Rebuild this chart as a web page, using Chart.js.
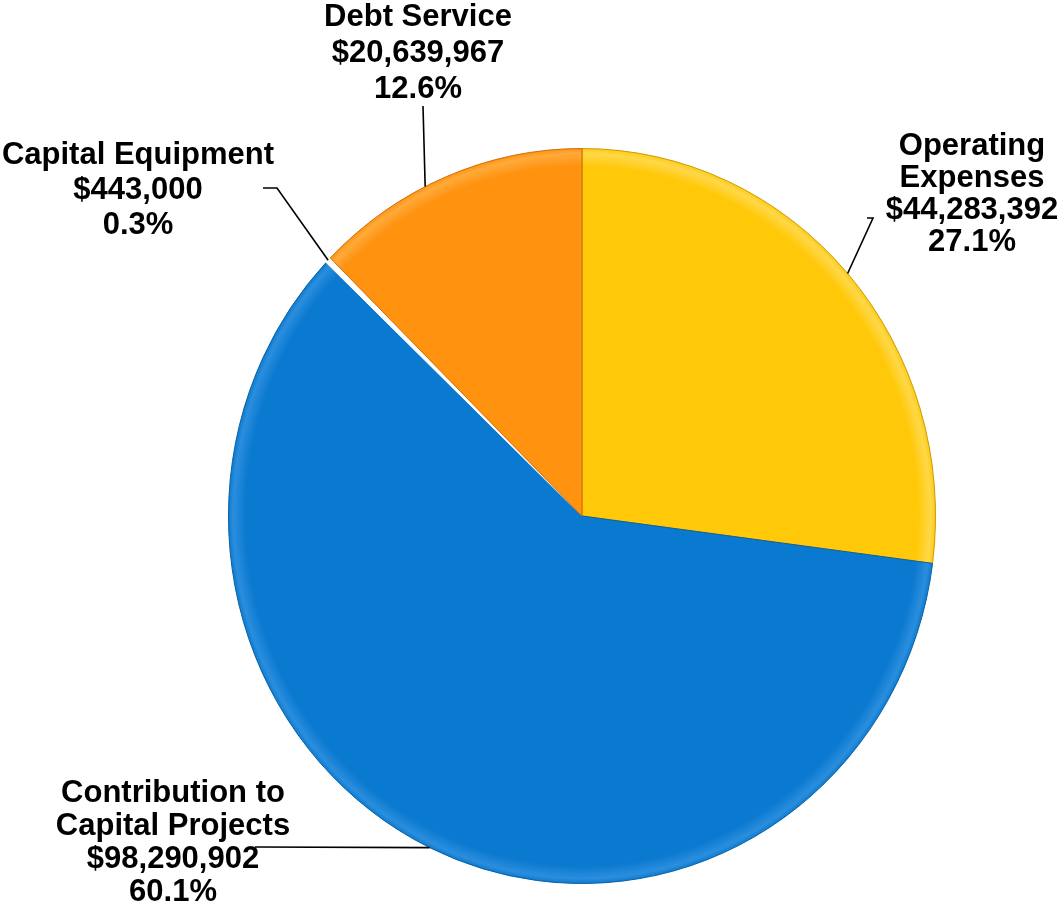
<!DOCTYPE html>
<html>
<head>
<meta charset="utf-8">
<script src="https://cdn.jsdelivr.net/npm/chart.js@4.4.1/dist/chart.umd.min.js"></script>
<style>
  body { margin: 0; background: #fff; }
  #wrap { width: 1059px; height: 915px; position: relative; }
</style>
</head>
<body>
<div id="wrap"><canvas id="budgetPie"></canvas></div>
<script>
// data
const categories = ['Operating Expenses', 'Contribution to Capital Projects', 'Capital Equipment', 'Debt Service'];
const amounts = [44283392, 98290902, 443000, 20639967];
const percents = ['27.1%', '60.1%', '0.3%', '12.6%'];
const labelLines = [
  ['Operating', 'Expenses'],
  ['Contribution to', 'Capital Projects'],
  ['Capital Equipment'],
  ['Debt Service']
];

const baseColors = ['#FFC90A', '#0A79D0', '#FFFFFF', '#FF920F'];
const rimColors  = ['#FFD84A', '#2B8EDD', '#FFFFFF', '#FFAA3A'];
const edgeColors = ['#C89A00', '#08609F', '#FFFFFF', '#D06A00'];

// squash the pie a little horizontally, like the original
const squashX = 0.962;

// where each label block sits, where the leader touches the slice (0..1 across it),
// and the leader line bend points
const labelLayout = [
  { x: 972, y: 155, lh: 32, at: 0.5,  path: [[873, 218], [867, 218]] },
  { x: 173, y: 802, lh: 33, at: 0.5,  path: [[255, 847]] },
  { x: 138, y: 164, lh: 35, at: 0.5,  path: [[277, 188], [263, 188]] },
  { x: 418, y: 26,  lh: 36, at: 0.42, path: [[423, 106]] }
];

function money(v) {
  return '$' + v.toLocaleString('en-US');
}

function sliceFill(context) {
  const chart = context.chart;
  const area = chart.chartArea;
  const i = context.dataIndex;
  if (!area) return baseColors[i];
  const cx = (area.left + area.right) / 2;
  const cy = (area.top + area.bottom) / 2;
  const r = Math.min(area.right - area.left, area.bottom - area.top) / 2;
  const g = chart.ctx.createRadialGradient(cx, cy, 0, cx, cy, r);
  g.addColorStop(0, baseColors[i]);
  g.addColorStop(0.95, baseColors[i]);
  g.addColorStop(0.985, rimColors[i]);
  g.addColorStop(1, baseColors[i]);
  return g;
}

const squashPlugin = {
  id: 'squash',
  beforeDatasetsDraw(chart) {
    const a = chart.chartArea;
    const cx = (a.left + a.right) / 2;
    const cy = (a.top + a.bottom) / 2;
    const ctx = chart.ctx;
    ctx.save();
    ctx.translate(cx, cy);
    ctx.scale(squashX, 1);
    ctx.translate(-cx, -cy);
  },
  afterDatasetsDraw(chart) {
    chart.ctx.restore();
  }
};

const calloutPlugin = {
  id: 'callouts',
  afterDraw(chart) {
    const ctx = chart.ctx;
    const arcs = chart.getDatasetMeta(0).data;
    ctx.save();
    arcs.forEach((arc, i) => {
      const lay = labelLayout[i];
      const p = arc.getProps(['x', 'y', 'startAngle', 'endAngle', 'outerRadius'], true);
      const ang = p.startAngle + (p.endAngle - p.startAngle) * lay.at;
      const sx = p.x + Math.cos(ang) * p.outerRadius * squashX;
      const sy = p.y + Math.sin(ang) * p.outerRadius;
      ctx.strokeStyle = '#000';
      ctx.lineWidth = 1.6;
      ctx.beginPath();
      ctx.moveTo(sx, sy);
      lay.path.forEach(pt => ctx.lineTo(pt[0], pt[1]));
      ctx.stroke();

      const lines = labelLines[i].concat([money(amounts[i]), percents[i]]);
      ctx.fillStyle = '#000';
      ctx.font = 'bold 31px "Liberation Sans", Arial, sans-serif';
      ctx.textAlign = 'center';
      ctx.textBaseline = 'alphabetic';
      lines.forEach((t, k) => ctx.fillText(t, lay.x, lay.y + k * lay.lh));
    });
    ctx.restore();
  }
};

new Chart(document.getElementById('budgetPie'), {
  type: 'pie',
  data: {
    labels: categories,
    datasets: [{
      data: amounts,
      backgroundColor: sliceFill,
      borderColor: edgeColors,
      borderWidth: 1
    }]
  },
  options: {
    responsive: true,
    maintainAspectRatio: false,
    animation: false,
    events: [],
    layout: { padding: { top: 148, bottom: 31, left: 214, right: 109 } },
    plugins: {
      legend: { display: false },
      tooltip: { enabled: false }
    }
  },
  plugins: [squashPlugin, calloutPlugin]
});
</script>
</body>
</html>
